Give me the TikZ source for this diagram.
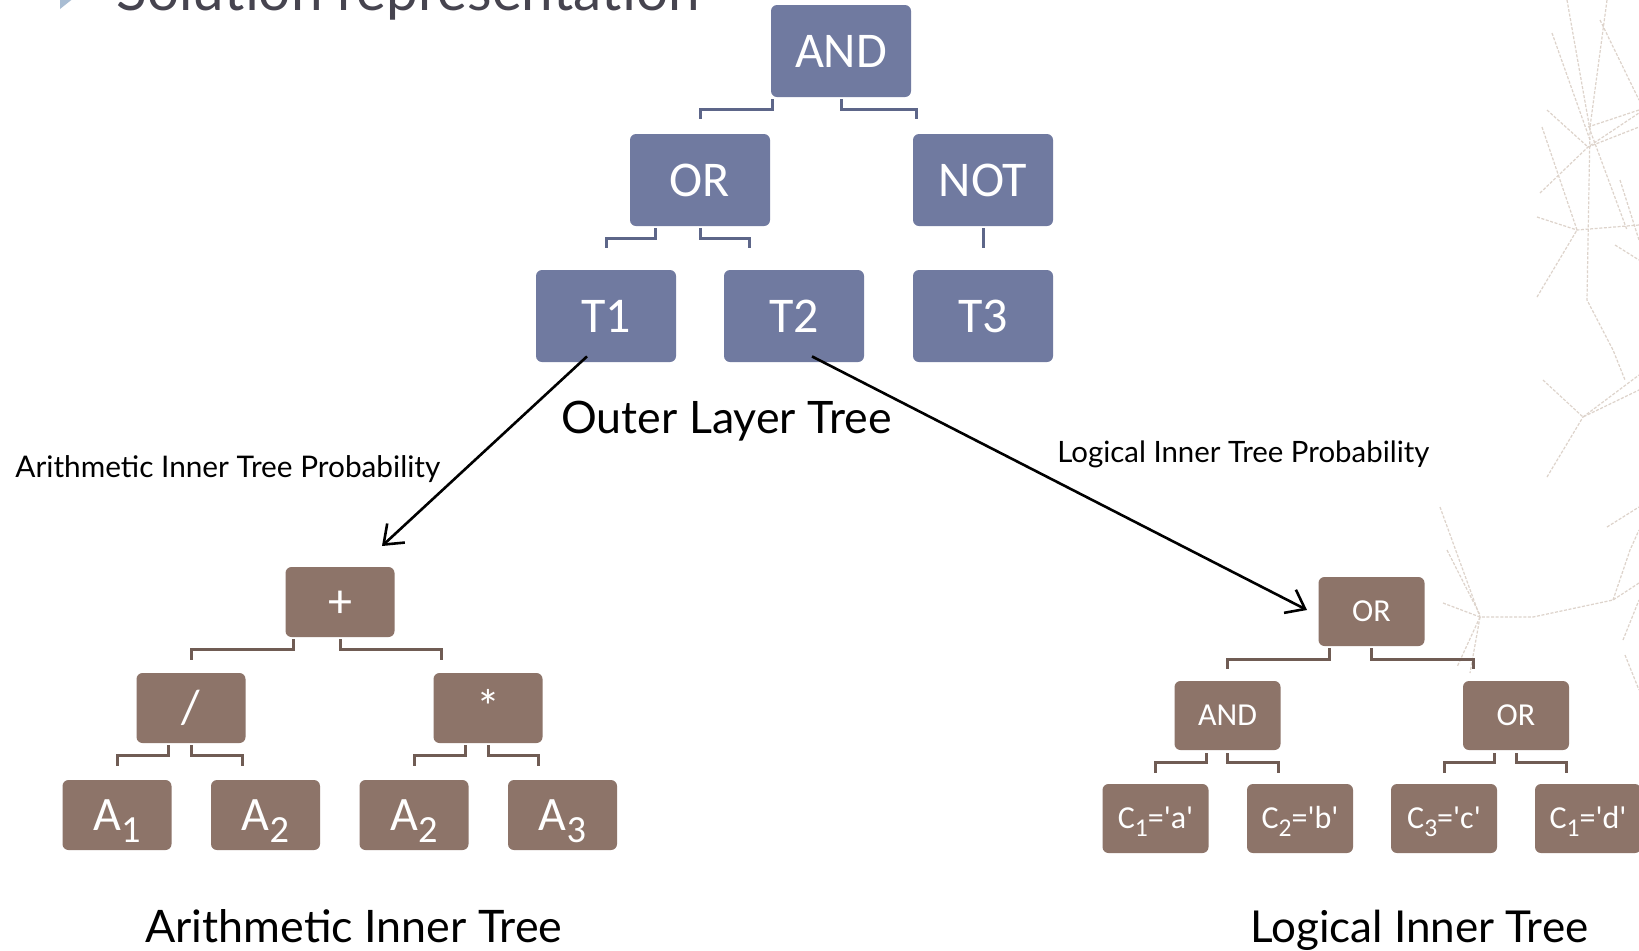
\documentclass[tikz,border=0pt]{standalone}
\usepackage{fontspec}
\usetikzlibrary{arrows.meta,calc}
\newfontfamily\boxfont{Carlito}
\newfontfamily\labfont{Lato}
\definecolor{outerfill}{HTML}{707AA0}
\definecolor{outerline}{HTML}{5D6689}
\definecolor{innerfill}{HTML}{8D7469}
\definecolor{innerline}{HTML}{705C54}
\definecolor{sketch}{HTML}{DDD3CB}
\definecolor{titlegray}{HTML}{46444F}
\definecolor{bulletblue}{HTML}{A9BDD3}
% lowered subscript as set in the boxes
\newcommand\lsub[1]{\raisebox{-0.25em}{\scalebox{0.8}{#1}}}
% straight apostrophe, bypassing the TeX quote mapping
\newcommand\sq{\XeTeXglyph\XeTeXcharglyph"27\relax}
% label scaled to a given width
\newcommand\fitw[2]{\resizebox{#1}{!}{#2}}

\begin{document}
\begin{tikzpicture}[x=0.5pt,y=-0.5pt,
  outerbox/.style={fill=outerfill, rounded corners=3pt, minimum width=70pt,
    minimum height=46pt, inner sep=0pt, text=white,
    font=\boxfont\fontsize{25}{30}\selectfont, text height=16pt, text depth=0pt},
  arbox/.style={fill=innerfill, rounded corners=3pt, minimum width=54.5pt,
    minimum height=35pt, inner sep=0pt, text=white,
    font=\boxfont\fontsize{24}{28}\selectfont, text height=15.5pt, text depth=0pt},
  lgbox/.style={fill=innerfill, rounded corners=3pt, minimum width=53pt,
    minimum height=34.5pt, inner sep=0pt, text=white,
    font=\boxfont\fontsize{16}{19}\selectfont, text height=10.3pt, text depth=0pt},
  oline/.style={draw=outerline, line width=1.5pt},
  iline/.style={draw=innerline, line width=1.5pt},
  arr/.style={draw=black, line width=1.3pt, -{Straight Barb[length=8.5pt,width=13pt]}},
  lab/.style={inner sep=0pt, anchor=base west, text=black, font=\labfont},
  sk/.style={draw=sketch, line width=0.6pt, dash pattern=on 1.5pt off 0.8pt}]

\useasboundingbox (0,0) rectangle (1639,950);
\clip (0,0) rectangle (1639,950);
\fill[white] (0,0) rectangle (1639,950);

% faint background sketch
\draw[sk] (1540,193) -- (1588,147) -- (1639,113);
\draw[sk] (1547,110) -- (1588,147) -- (1639,127);
\draw[sk] (1588,127) -- (1639,110);
\draw[sk] (1607,0) -- (1590,127) -- (1587,300) -- (1613,350) -- (1625,380);
\draw[sk] (1567,0) -- (1590,130) -- (1627,230);
\draw[sk] (1542,127) -- (1577,230);
\draw[sk] (1537,217) -- (1577,230) -- (1639,225);
\draw[sk] (1537,297) -- (1577,230);
\draw[sk] (1552,33) -- (1590,140);
\draw[sk] (1600,20) -- (1639,100);
\draw[sk] (1620,180) -- (1639,240);
\draw[sk] (1615,245) -- (1639,260);
\draw[sk] (1440,507) -- (1480,617);
\draw[sk] (1443,603) -- (1480,617) -- (1533,617) -- (1613,600) -- (1639,583);
\draw[sk] (1447,550) -- (1480,615);
\draw[sk] (1480,617) -- (1457,667);
\draw[sk] (1480,617) -- (1470,673);
\draw[sk] (1543,380) -- (1583,417) -- (1639,390);
\draw[sk] (1547,477) -- (1583,417);
\draw[sk] (1583,417) -- (1639,375);
\draw[sk] (1607,527) -- (1639,507);
\draw[sk] (1613,600) -- (1630,550) -- (1639,530);
\draw[sk] (1623,640) -- (1639,600);
\draw[sk] (1625,655) -- (1639,690);

% slide title, cut by the top edge
\fill[bulletblue] (60,-26) -- (60,9) -- (82,-8.5) -- cycle;
\node[lab, text=titlegray] (title) at (116,10) {\fitw{291.5pt}{Solution representation}};

% outer layer tree
\node[outerbox] (AND) at (841,51) {AND};
\node[outerbox] (OR)  at (700,180) {OR};
\node[outerbox] (NOT) at (983,180) {NOT};
\node[outerbox] (T1)  at (606,316) {T1};
\node[outerbox] (T2)  at (794,316) {T2};
\node[outerbox] (T3)  at (983,316) {T3};

\draw[oline] ($(AND.south west)+(2,2)$) -- ++(0,10) -| ($(OR.north)+(0,-15)$);
\draw[oline] ($(AND.south)+(0,2)$) -- ++(0,10) -| ($(NOT.north west)+(4,-15)$);
\draw[oline] ($(OR.south west)+(26,2)$) -- ++(0,10) -| ($(T1.north)+(0,-22)$);
\draw[oline] ($(OR.south)+(0,2)$) -- ++(0,10) -| ($(T2.north west)+(26,-22)$);
\draw[oline] ($(NOT.south)+(0,2)$) -- ($(T3.north)+(0,-22)$);

% arithmetic inner tree
\node[arbox] (plus) at (340,602) {+};
\node[arbox] (div)  at (191,708) {/};
\node[arbox] (mul)  at (488,708) {*};
\node[arbox] (a1) at (117,815) {A\lsub{1}};
\node[arbox] (a2) at (265.5,815) {A\lsub{2}};
\node[arbox] (a3) at (414,815) {A\lsub{2}};
\node[arbox] (a4) at (562.5,815) {A\lsub{3}};

\draw[iline] ($(plus.south west)+(8,2)$) -- ++(0,10) -| ($(div.north)+(0,-13)$);
\draw[iline] ($(plus.south)+(0,2)$) -- ++(0,10) -| ($(mul.north west)+(8,-13)$);
\draw[iline] ($(div.south west)+(32,2)$) -- ++(0,10) -| ($(a1.north)+(0,-14)$);
\draw[iline] ($(div.south)+(0,2)$) -- ++(0,10) -| ($(a2.north west)+(32,-14)$);
\draw[iline] ($(mul.south west)+(32,2)$) -- ++(0,10) -| ($(a3.north)+(0,-14)$);
\draw[iline] ($(mul.south)+(0,2)$) -- ++(0,10) -| ($(a4.north west)+(31,-14)$);

% logical inner tree
\node[lgbox] (lor)  at (1371.5,611.5) {OR};
\node[lgbox] (land) at (1227.5,715.5) {AND};
\node[lgbox] (lor2) at (1516,715.5) {OR};
\node[lgbox] (c1) at (1155.5,818.5) {C\lsub{1}=\sq a\sq};
\node[lgbox] (c2) at (1300,818.5) {C\lsub{2}=\sq b\sq};
\node[lgbox] (c3) at (1444,818.5) {C\lsub{3}=\sq c\sq};
\node[lgbox] (c4) at (1588,818.5) {C\lsub{1}=\sq d\sq};

\draw[iline] ($(lor.south west)+(11,2)$) -- ++(0,11) -| ($(land.north)+(0,-12)$);
\draw[iline] ($(lor.south)+(0,2)$) -- ++(0,11) -| ($(lor2.north west)+(11,-12)$);
\draw[iline] ($(land.south west)+(32,3)$) -- ++(0,9) -| ($(c1.north)+(0,-11)$);
\draw[iline] ($(land.south)+(0,3)$) -- ++(0,9) -| ($(c2.north west)+(32,-11)$);
\draw[iline] ($(lor2.south west)+(32,3)$) -- ++(0,9) -| ($(c3.north)+(0,-11)$);
\draw[iline] ($(lor2.south)+(0,3)$) -- ++(0,9) -| ($(c4.north west)+(32,-11)$);

% links from the outer terminals to the inner trees
\coordinate (tipA) at (382,546);
\coordinate (tipL) at (1307,610);
\draw[arr] ($(T1.south)+(-19,-6)$) -- (tipA);
\draw[arr] ($(T2.south)+(18,-6)$) -- (tipL);

% captions
\node[lab] (outercap) at (561,433) {\fitw{165pt}{Outer Layer Tree}};
\node[lab] (arprob) at (15,477) {\fitw{212.5pt}{Arithmetic Inner Tree Probability}};
\node[lab] (lgprob) at (1057,462) {\fitw{186pt}{Logical Inner Tree Probability}};
\node[lab] (arcap) at (145,942) {\fitw{208.5pt}{Arithmetic Inner Tree}};
\node[lab] (lgcap) at (1250,942) {\fitw{169pt}{Logical Inner Tree}};
\end{tikzpicture}
\end{document}
